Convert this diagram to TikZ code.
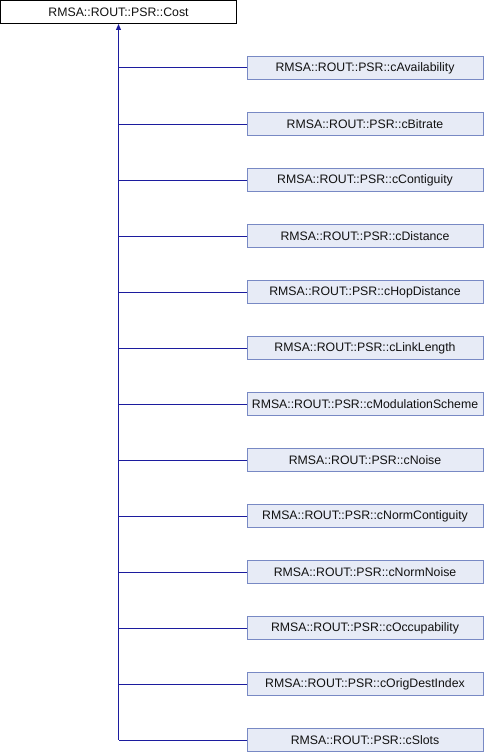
\documentclass[tikz,border=0pt]{standalone}
\usepackage{fontspec}
\setmainfont{Liberation Sans}
\usetikzlibrary{arrows.meta}
\definecolor{dxEdge}{HTML}{1C1C9E}
\definecolor{dxFill}{HTML}{E7EBF6}
\definecolor{dxLine}{HTML}{7889C4}
\definecolor{dxInk}{HTML}{111111}
\newcommand{\DXType}{\fontsize{12.3}{14}\selectfont}
\tikzset{dx/base/.style={x=1pt,y=-1pt,line cap=butt,line join=miter,
  every node/.style={font=\DXType,inner sep=0pt,text=dxInk}},
  dx/edge/.style={draw=dxEdge,line width=1pt},
  dx/arrow/.style={{Triangle[length=6pt,width=5pt]}-,draw=dxEdge,line width=1pt},
  dx/root/.style={draw=black,fill=white,line width=1pt,minimum width=236pt,
    minimum height=23pt},
  dx/child/.style={draw=dxLine,fill=dxFill,line width=1pt,minimum width=236pt,
    minimum height=23pt}}

\begin{document}
\begin{tikzpicture}[dx/base]
  \useasboundingbox (0,0) rectangle (484,752);
  \node[dx/root] (cost) at (118.5,12) {RMSA::ROUT::PSR::Cost};
  \foreach \k/\name in {0/cAvailability,1/cBitrate,2/cContiguity,3/cDistance,
    4/cHopDistance,5/cLinkLength,6/cModulationScheme,7/cNoise,8/cNormContiguity,
    9/cNormNoise,10/cOccupability,11/cOrigDestIndex,12/cSlots}{
    \node[dx/child] (\name) at (365,{68+56*\k}) {RMSA::ROUT::PSR::\name};
    \draw[dx/edge] (\name.west) -- (\name.west -| cost.south);}
  % trunk up to the base class
  \draw[dx/arrow] (cost.south) -- (cost.south |- cSlots.west);
\end{tikzpicture}
\end{document}
